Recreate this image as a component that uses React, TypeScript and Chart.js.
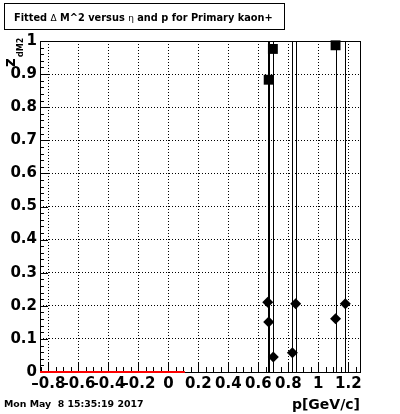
import React, { useEffect, useRef } from "react";
import { Chart, registerables } from "chart.js";

Chart.register(...registerables);

// ---- data ----
const X_MIN = -0.856;
const X_MAX = 1.278;
const Y_MIN = 0;
const Y_MAX = 1;
const X_STEP = 0.2;
const Y_STEP = 0.1;
const X_MINOR_DIV = 4;
const Y_MINOR_DIV = 5;

const squareX = [0.669, 0.697, 1.115];
const squareY = [0.883, 0.976, 0.987];
const squareErr = [1.5, 1.5, 1.5];

const diamondX = [0.663, 0.669, 0.7, 0.827, 0.849, 1.115, 1.18];
const diamondY = [0.211, 0.151, 0.045, 0.058, 0.206, 0.161, 0.206];
const diamondErr = [1.5, 1.5, 1.5, 1.5, 1.5, 1.5, 1.5];

const redX = [-0.856, 0.11];
const redY = [0, 0];

const TITLE_PARTS: [string, boolean][] = [
  ["Fitted ", false],
  ["Δ", true],
  [" M^2 versus ", false],
  ["η", true],
  [" and p for Primary kaon+", false],
];
const DATE_TEXT = "Mon May  8 15:35:19 2017";
const X_TITLE = "p[GeV/c]";
const Y_TITLE_MAIN = "z";
const Y_TITLE_SUB = "dM2";

const FONT = "'DejaVu Sans', sans-serif";

const fmt = (v: number) => {
  const r = Math.round(v * 10) / 10;
  if (Math.abs(r) < 1e-9) return "0";
  const s = Math.abs(r - Math.round(r)) < 1e-9 ? String(Math.round(r)) : r.toFixed(1);
  return s.replace("-", "\u2013");
};

const rootPlugin = {
  id: "rootStyle",
  beforeDatasetsDraw(chart: any) {
    const { ctx, chartArea: a, scales } = chart;
    const xs = scales.x;
    const ys = scales.y;
    ctx.save();
    ctx.strokeStyle = "#000";
    ctx.lineWidth = 1;
    ctx.setLineDash([]);
    // frame
    ctx.strokeRect(a.left + 0.5, a.top + 0.5, a.right - a.left, a.bottom - a.top);
    // x ticks (inside)
    ctx.beginPath();
    const xMinor = X_STEP / X_MINOR_DIV;
    for (let k = Math.ceil(X_MIN / xMinor - 1e-6); k * xMinor <= X_MAX + 1e-9; k++) {
      const v = k * xMinor;
      const major = k % X_MINOR_DIV === 0;
      const px = Math.round(xs.getPixelForValue(v)) + 0.5;
      ctx.moveTo(px, a.bottom);
      ctx.lineTo(px, a.bottom - (major ? 10 : 5));
    }
    const yMinor = Y_STEP / Y_MINOR_DIV;
    for (let k = Math.ceil(Y_MIN / yMinor - 1e-6); k * yMinor <= Y_MAX + 1e-9; k++) {
      const v = k * yMinor;
      const major = k % Y_MINOR_DIV === 0;
      const py = Math.round(ys.getPixelForValue(v)) + 0.5;
      ctx.moveTo(a.left, py);
      ctx.lineTo(a.left + (major ? 8 : 4), py);
    }
    ctx.stroke();
    // error bars
    ctx.save();
    ctx.beginPath();
    ctx.rect(a.left, a.top, a.right - a.left, a.bottom - a.top);
    ctx.clip();
    ctx.beginPath();
    const bars = (X: number[], Y: number[], E: number[]) => {
      X.forEach((xv, i) => {
        const px = Math.round(xs.getPixelForValue(xv)) + 0.5;
        ctx.moveTo(px, ys.getPixelForValue(Y[i] - E[i]));
        ctx.lineTo(px, ys.getPixelForValue(Y[i] + E[i]));
      });
    };
    bars(squareX, squareY, squareErr);
    bars(diamondX, diamondY, diamondErr);
    ctx.stroke();
    ctx.restore();
    ctx.restore();
  },
  afterDraw(chart: any) {
    const { ctx, chartArea: a } = chart;
    ctx.save();
    ctx.setLineDash([]);
    // title box
    ctx.fillStyle = "#fff";
    ctx.fillRect(4, 3, 280, 26);
    ctx.strokeStyle = "#000";
    ctx.lineWidth = 1;
    ctx.strokeRect(4.5, 3.5, 280, 26);
    ctx.fillStyle = "#000";
    ctx.textBaseline = "alphabetic";
    ctx.textAlign = "left";
    let tx = 14;
    TITLE_PARTS.forEach(([s, sym]) => {
      ctx.font = sym ? `9px ${FONT}` : `bold 9.8px ${FONT}`;
      ctx.fillText(s, tx, 20.5);
      tx += ctx.measureText(s).width;
    });
    // date
    ctx.font = `bold 9.4px ${FONT}`;
    ctx.fillText(DATE_TEXT, 4, 407);
    // x title
    ctx.font = `bold 14px ${FONT}`;
    ctx.textAlign = "right";
    ctx.fillText(X_TITLE, a.right, 409);
    // y title (rotated)
    ctx.save();
    ctx.translate(15, 67);
    ctx.rotate(-Math.PI / 2);
    ctx.textAlign = "left";
    ctx.font = `bold 15px ${FONT}`;
    ctx.fillText(Y_TITLE_MAIN, 0, 0);
    ctx.font = `bold 8px ${FONT}`;
    ctx.fillText(Y_TITLE_SUB, 10, 8);
    ctx.restore();
    ctx.restore();
  },
};

export default function App() {
  const ref = useRef<HTMLCanvasElement | null>(null);
  useEffect(() => {
    if (!ref.current) return;
    Chart.defaults.font.family = FONT;
    const chart = new Chart(ref.current, {
      type: "scatter",
      data: {
        datasets: [
          {
            label: "squares",
            data: squareX.map((x, i) => ({ x, y: squareY[i] })),
            pointStyle: "rect",
            pointRadius: 7,
            backgroundColor: "#000",
            borderColor: "#000",
            borderWidth: 0,
            clip: false,
          } as any,
          {
            label: "diamonds",
            data: diamondX.map((x, i) => ({ x, y: diamondY[i] })),
            pointStyle: "rectRot",
            pointRadius: 5.5,
            backgroundColor: "#000",
            borderColor: "#000",
            borderWidth: 0,
            clip: false,
          } as any,
          {
            label: "red",
            data: redX.map((x, i) => ({ x, y: redY[i] })),
            showLine: true,
            borderColor: "#ff0000",
            backgroundColor: "#ff0000",
            borderWidth: 2,
            pointRadius: 0,
            fill: false,
            clip: false,
          } as any,
        ],
      },
      options: {
        responsive: false,
        animation: false,
        devicePixelRatio: 1,
        layout: { padding: { left: 0, top: 41, right: 40, bottom: 0 } },
        plugins: { legend: { display: false }, tooltip: { enabled: false }, title: { display: false } },
        scales: {
          x: {
            type: "linear",
            min: X_MIN,
            max: X_MAX,
            afterFit: (s: any) => {
              s.height = 42;
            },
            ticks: {
              stepSize: X_STEP,
              includeBounds: false,
              autoSkip: false,
              maxRotation: 0,
              padding: 3,
              color: "#000",
              font: { family: FONT, size: 15, weight: "bold" },
              callback: (v: any) => fmt(Number(v)),
            },
            grid: { color: "#000", lineWidth: 1, drawTicks: false },
            border: { display: false, dash: [1, 2] },
          },
          y: {
            type: "linear",
            min: Y_MIN,
            max: Y_MAX,
            afterFit: (s: any) => {
              s.width = 40;
            },
            ticks: {
              stepSize: Y_STEP,
              includeBounds: false,
              autoSkip: false,
              padding: 3,
              color: "#000",
              font: { family: FONT, size: 15, weight: "bold" },
              callback: (v: any) => fmt(Number(v)),
            },
            grid: { color: "#000", lineWidth: 1, drawTicks: false },
            border: { display: false, dash: [1, 2] },
          },
        },
      } as any,
      plugins: [rootPlugin],
    });
    return () => chart.destroy();
  }, []);
  return (
    <div style={{ position: "absolute", left: 0, top: 0, width: 400, height: 414, background: "#fff" }}>
      <canvas ref={ref} width={400} height={414} style={{ display: "block" }} />
    </div>
  );
}
